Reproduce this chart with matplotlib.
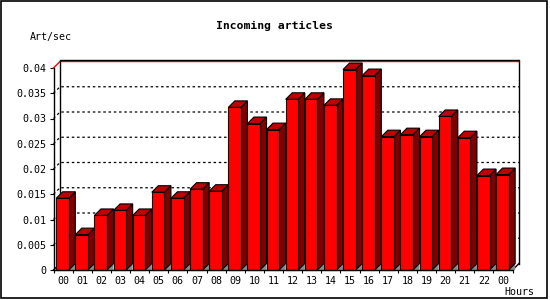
import numpy as np
import matplotlib
matplotlib.use("Agg")
from matplotlib import pyplot as plt
from matplotlib.patches import Polygon, Rectangle
from matplotlib.lines import Line2D
from matplotlib.transforms import IdentityTransform

# incoming articles per second, one bar per hour
hour_labels = ["00", "01", "02", "03", "04", "05", "06", "07", "08", "09", "10", "11",
               "12", "13", "14", "15", "16", "17", "18", "19", "20", "21", "22", "00"]
art_per_sec = [0.0142, 0.0070, 0.0108, 0.0118, 0.0108, 0.0154, 0.0142, 0.0160, 0.0156,
               0.0322, 0.0290, 0.0278, 0.0338, 0.0338, 0.0326, 0.0397, 0.0385, 0.0264,
               0.0268, 0.0264, 0.0304, 0.0262, 0.0187, 0.0189]
y_ticks = [0, 0.005, 0.01, 0.015, 0.02, 0.025, 0.03, 0.035, 0.04]
y_tick_labels = ["0", "0.005", "0.01", "0.015", "0.02", "0.025", "0.03", "0.035", "0.04"]

depth = 6.5  # pixel offset of the back plane (3d look)
mono = "DejaVu Sans Mono"

fig = plt.figure(figsize=(5.5, 3), dpi=100)
fig.patch.set_facecolor("white")
ax = fig.add_axes([53.5 / 550, 30 / 300, 459 / 550, 202 / 300])
ax.set_xlim(0, len(art_per_sec))
ax.set_ylim(0, 0.04)
ax.patch.set_visible(False)
for side in ["top", "right"]:
    ax.spines[side].set_visible(False)
for side in ["left", "bottom"]:
    ax.spines[side].set_linewidth(1)
    ax.spines[side].set_zorder(10)


def px(x, y, back=False):
    # data point -> display coords, optionally pushed to the back plane
    p = ax.transData.transform((x, y))
    if back:
        p = p + depth
    return p


def poly(points, color, z, lw=0.8, ec="black"):
    ax.add_patch(Polygon(points, closed=True, facecolor=color, edgecolor=ec, lw=lw,
                         transform=IdentityTransform(), clip_on=False, zorder=z))


def line(points, z, **kw):
    pts = np.array(points)
    ax.add_line(Line2D(pts[:, 0], pts[:, 1], transform=IdentityTransform(),
                       clip_on=False, zorder=z, **kw))


xmax = len(art_per_sec)

# back plane frame and floor edges
line([px(0, 0, True), px(0, 0.04, True) + [0, 1.6], px(xmax, 0.04, True) + [0, 1.6],
      px(xmax, 0, True)], 2.5, color="black", lw=1)
line([px(0, 0), px(0, 0, True)], 1, color="black", lw=1)
line([px(xmax, 0), px(xmax, 0, True)], 1, color="black", lw=1)

# grid lines on the back plane
for v in y_ticks[1:-1]:
    line([px(0, v), px(0, v, True), px(xmax, v, True)], 1,
         color="black", lw=0.9, linestyle=(0, (2, 2.2)))
line([px(0, 0.04), px(0, 0.04, True), px(xmax - 0.02, 0.04, True)], 2, color="red", lw=1)

# 3d bars
for i, v in enumerate(art_per_sec):
    x0, x1 = i + 0.14, i + 0.80
    z = 3 + i * 0.01
    fb = px(x1, 0)
    poly([fb, px(x1, 0, True), [px(x1, 0, True)[0], fb[1]]], "#8c8c8c", z, lw=0, ec="none")
    poly([px(x1, 0), px(x1, v), px(x1, v, True), px(x1, 0, True)], "#800000", z)
    poly([px(x0, v), px(x1, v), px(x1, v, True), px(x0, v, True)], "#c00000", z)
    poly([px(x0, 0), px(x1, 0), px(x1, v), px(x0, v)], "#ff0000", z)

# axes ticks and labels
ax.set_yticks(y_ticks)
ax.set_yticklabels(y_tick_labels, fontfamily=mono, fontsize=7.2)
ax.tick_params(axis="y", length=2.6, width=0.8, pad=2.2)
ax.set_xticks(np.arange(xmax + 1))
ax.set_xticklabels([])
ax.tick_params(axis="x", which="major", length=2.4, width=0.8)
ax.set_xticks(np.arange(xmax) + 0.5, minor=True)
ax.set_xticklabels(hour_labels, minor=True, fontfamily=mono, fontsize=7.2)
ax.tick_params(axis="x", which="minor", length=0, pad=4.2)

fig.text(274 / 550, 1 - 26 / 300, "Incoming articles", ha="center", va="center",
         fontfamily=mono, fontweight="bold", fontsize=8.2)
fig.text(30 / 550, 1 - 37 / 300, "Art/sec", ha="left", va="center",
         fontfamily=mono, fontsize=7.2)
fig.text(504 / 550, 1 - 292 / 300, "Hours", ha="left", va="center",
         fontfamily=mono, fontsize=7.2)

# outer frame
fig.add_artist(Rectangle((0.7 / 550, 2.5 / 300), 546.5 / 550, 296.8 / 300,
                         transform=fig.transFigure, fill=False, lw=1.2, ec="black"))

fig.savefig("out.png", dpi=100)
